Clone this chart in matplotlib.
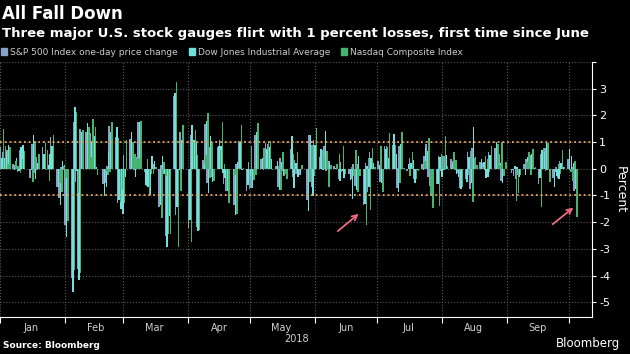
import numpy as np
import pandas as pd
import matplotlib
matplotlib.use("Agg")
import matplotlib.pyplot as plt
import matplotlib.dates as mdates
from matplotlib.patches import Patch

# Trading days Jan 2 - Oct 4, 2018
holidays = ["2018-01-15", "2018-02-19", "2018-03-30", "2018-05-28", "2018-07-04", "2018-09-03"]
dates = pd.bdate_range("2018-01-02", "2018-10-04", freq="C", holidays=holidays)

# One-day price change, percent (one line per month)
spx = [0.83, 0.64, 0.40, 0.70, 0.17, 0.13, -0.11, 0.70, 0.67, -0.35, 0.94, -0.16, 0.44, 0.81, 0.22, -0.06, 0.06, 1.18, -0.67, -1.09, 0.05,
       -0.06, -2.12, -4.10, 1.74, -0.50, -3.75, 1.49, 1.39, 0.26, 1.34, 1.21, 0.04, -0.58, -0.55, 0.10, 1.60, 1.18, -1.27, -1.11,
       -1.33, 0.51, 1.10, 0.26, -0.05, 0.45, 1.74, -0.13, -0.64, -0.57, -0.08, 0.17, -1.42, 0.15, -0.18, -2.52, -2.10, 2.72, -1.73, -0.29, 1.38,
       -2.23, 1.26, 1.16, 0.69, -2.19, 0.33, 1.67, -0.55, 0.83, -0.29, 0.81, 1.07, 0.08, -0.57, -0.85, 0.01, -1.34, 0.18, 1.04, 0.11, -0.82,
       0.25, -0.72, -0.23, 1.28, 0.35, -0.03, 0.97, 0.94, 0.17, 0.09, -0.68, 0.41, -0.09, -0.26, 0.74, -0.31, 0.32, -0.20, -0.24, -1.16, 1.27, -0.69,
       1.08, 0.45, 0.07, 0.86, -0.07, 0.31, 0.11, 0.17, -0.40, 0.25, -0.10, -0.21, -0.40, 0.17, -0.63, 0.19, -1.37, 0.22, -0.86, 0.62, 0.08,
       0.31, -0.49, 0.86, 0.85, 0.88, 0.35, -0.71, 0.87, 0.11, -0.10, 0.40, 0.22, -0.40, -0.09, 0.18, 0.48, 0.91, -0.30, -0.66, -0.58, 0.49,
       -0.10, 0.49, 0.46, 0.35, 0.28, -0.03, -0.14, -0.71, -0.40, 0.64, -0.76, 0.79, 0.33, 0.24, 0.21, -0.04, -0.17, 0.62, 0.77, 0.03, 0.57, -0.44, 0.01,
       -0.17, -0.28, -0.37, -0.22, 0.19, 0.37, 0.04, 0.53, 0.03, -0.56, 0.54, 0.13, 0.78, -0.04, -0.35, -0.13, -0.33, 0.28, 0.00,
       0.36, -0.04, 0.07, -0.82]

dow = [0.42, 0.40, 0.61, 0.88, -0.05, 0.41, -0.07, 0.81, 0.89, -0.04, 1.25, -0.37, 0.21, 0.55, -0.01, 0.16, 0.54, 0.85, -0.67, -1.37, 0.28,
       0.15, -2.54, -4.60, 2.33, -0.08, -4.15, 1.38, 1.70, 0.16, 1.03, 1.23, 0.08, -1.01, -0.67, 0.66, 1.39, 1.58, -1.16, -1.50,
       -1.68, -0.29, 1.37, 0.34, -0.32, 0.36, 1.77, -0.62, -0.68, -1.00, 0.47, 0.29, -1.35, 0.47, -0.18, -2.93, -1.77, 2.84, -1.43, -0.04, 1.07,
       -1.90, 1.65, 1.06, 1.00, -2.34, 0.19, 1.79, -0.90, 1.21, -0.50, 0.87, 0.87, -0.16, -0.34, -0.82, -0.06, -1.74, 0.25, 1.00, -0.05, -0.61,
       -0.27, -0.72, -0.08, 1.39, 0.39, 0.01, 0.75, 0.80, 0.37, 0.28, -0.78, 0.25, -0.22, 0.01, 1.21, -0.72, 0.21, -0.30, -0.24, -1.58, 1.26, -1.02,
       0.90, 0.73, -0.06, 1.40, 0.38, 0.30, 0.02, -0.01, -0.47, -0.10, -0.34, -0.41, -1.15, -0.17, -0.80, 0.49, -1.33, 0.12, -0.68, 0.41, 0.23,
       0.15, -0.54, 0.75, 0.41, 1.31, 0.56, -0.88, 0.91, 0.38, 0.18, 0.22, 0.32, -0.53, -0.03, -0.06, 0.79, 0.68, 0.44, -0.30, -0.57, 0.43,
       -0.32, -0.03, 0.53, 0.17, 0.50, -0.18, -0.29, -0.77, -0.50, 0.45, -0.54, 1.58, 0.43, 0.35, 0.25, -0.35, -0.30, 0.52, 1.01, 0.06, 0.23, -0.55, -0.09,
       -0.05, 0.09, 0.08, -0.32, -0.23, 0.44, 0.11, 0.57, 0.03, -0.35, 0.71, 0.61, 0.95, 0.32, -0.68, -0.26, -0.40, 0.21, 0.07,
       0.73, 0.47, 0.20, -0.75]

nasdaq = [1.50, 0.84, 0.18, 0.83, 0.29, 0.09, -0.14, 0.36, 0.67, -0.51, 1.03, -0.03, 0.55, 0.98, 0.71, -0.45, -0.06, 1.28, -0.52, -0.86, 0.12,
          -0.35, -1.96, -3.78, 2.13, -0.90, -3.90, 1.44, 1.56, 0.45, 1.86, 1.58, -0.23, -0.07, -0.22, -0.11, 1.77, 1.14, -1.23, -0.78,
          -1.27, 1.08, 1.00, 0.56, 0.36, 0.41, 1.79, 0.36, -1.02, -0.19, -0.20, 0.05, -1.84, 0.27, -0.26, -2.43, -2.43, 3.26, -2.93, -0.85, 1.64,
          -2.74, 1.01, 1.45, 0.50, -2.28, 0.51, 2.07, -0.36, 1.01, -0.47, 0.71, 1.74, 0.19, -0.78, -1.27, -0.25, -1.70, 0.04, 1.64, 0.02, -0.75,
          0.87, -0.42, -0.24, 1.71, 0.77, 0.02, 1.00, 1.05, -0.04, 0.11, -0.81, 0.63, -0.21, -0.38, 0.54, -0.21, 0.64, 0.01, 0.13, -0.50, 0.89, -0.26,
          1.51, 0.69, 0.41, 0.66, -0.70, 0.13, 0.19, 0.56, -0.11, 0.85, -0.19, 0.05, -0.28, 0.72, -0.88, -0.26, -2.09, 0.39, -1.54, 0.79, 0.07,
          0.85, -0.86, 0.83, 1.34, 0.88, 0.03, -0.55, 1.39, 0.03, -0.26, 0.63, -0.01, -0.37, -0.07, 0.28, -0.01, 1.17, -1.01, -1.46, -1.39, 0.55,
          0.46, 1.24, 0.12, 0.61, 0.33, -0.05, -0.04, -0.67, -0.25, 0.66, -1.23, 0.42, 0.13, 0.06, 0.49, 0.38, -0.13, 0.86, 0.91, 0.15, 0.99, -0.26, 0.26,
          0.00, -1.19, -0.91, -0.25, 0.27, 0.61, -0.23, 0.75, 0.05, -1.43, 0.76, -0.08, 0.98, -0.51, 0.08, 0.18, -0.21, 0.70, 0.05,
          -0.11, -0.47, 0.30, -1.81]

labels = ["S&P 500 Index one-day price change", "Dow Jones Industrial Average", "Nasdaq Composite Index"]
colors = ["#86a2c6", "#72e0dc", "#44b470"]

assert len(dates) == len(spx) == len(dow) == len(nasdaq)

plt.rcParams["font.family"] = "DejaVu Sans"
fig = plt.figure(figsize=(6.3, 3.54), dpi=100, facecolor="black")
ax = fig.add_axes([0.0, 0.1045, 0.94, 0.7205], facecolor="black")

x = mdates.date2num(dates)
w = 0.72
for i, (vals, c) in enumerate(zip([spx, dow, nasdaq], colors)):
    ax.bar(x + (i - 1) * w, vals, width=w, color=c, linewidth=0)

# +/- 1 percent reference lines
for lvl in (1, -1):
    ax.axhline(lvl, color="#e8a565", linestyle=":", linewidth=1.3)

# arrows pointing at the latest and June declines
arrow = dict(arrowstyle="->", color="#f06a80", lw=1.3, mutation_scale=9)
ax.annotate("", xy=(mdates.datestr2num("2018-06-23"), -1.62), xytext=(mdates.datestr2num("2018-06-11"), -2.4), arrowprops=arrow)
ax.annotate("", xy=(mdates.datestr2num("2018-10-04"), -1.39), xytext=(mdates.datestr2num("2018-09-22"), -2.14), arrowprops=arrow)

ax.set_xlim(mdates.datestr2num("2018-01-01"), mdates.datestr2num("2018-10-12"))
ax.set_ylim(-5.55, 4.0)

# axes styling
ax.yaxis.tick_right()
ax.set_yticks(range(-5, 5))
ax.set_yticklabels([str(v) for v in range(-5, 4)] + [""])
ax.tick_params(axis="y", colors="white", labelsize=8, length=3, pad=2)
ax.yaxis.set_label_position("right")
ax.set_ylabel("Percent", color="white", fontsize=9, rotation=270, labelpad=12)

ax.xaxis.set_major_locator(mdates.MonthLocator())
ax.xaxis.set_major_formatter(plt.NullFormatter())
ax.xaxis.set_minor_locator(mdates.MonthLocator(bymonthday=16))
ax.xaxis.set_minor_formatter(mdates.DateFormatter("%b"))
ax.tick_params(axis="x", which="major", colors="white", length=4)
ax.tick_params(axis="x", which="minor", length=0, labelsize=7, labelcolor="#d0d0d0", pad=4)

ax.grid(True, which="major", color="#5a5a5a", linestyle=":", linewidth=0.8)
ax.set_axisbelow(True)
for s in ("top", "left"):
    ax.spines[s].set_visible(False)
ax.spines["bottom"].set_color("white")
ax.spines["right"].set_color("white")

ax.text(0.5, -0.068, "2018", transform=ax.transAxes, ha="center", va="top", color="#d0d0d0", fontsize=7)

# titles and legend
fig.text(0.003, 0.985, "All Fall Down", color="white", fontsize=12, fontweight="bold", va="top")
fig.text(0.003, 0.925, "Three major U.S. stock gauges flirt with 1 percent losses, first time since June",
         color="white", fontsize=9.5, fontweight="bold", va="top")
handles = [Patch(color=c) for c in colors]
fig.legend(handles, labels, loc="upper left", bbox_to_anchor=(0.0, 0.868), ncol=3, frameon=False,
           fontsize=6.5, labelcolor="#cccccc", handlelength=0.7, handleheight=0.7,
           handletextpad=0.3, columnspacing=1.2, borderaxespad=0, borderpad=0.1)

fig.text(0.005, 0.012, "Source: Bloomberg", color="white", fontsize=6.5, fontweight="bold", va="bottom")
fig.text(0.985, 0.012, "Bloomberg", color="white", fontsize=8.5, ha="right", va="bottom")

fig.savefig("out.png", dpi=100, facecolor="black")
